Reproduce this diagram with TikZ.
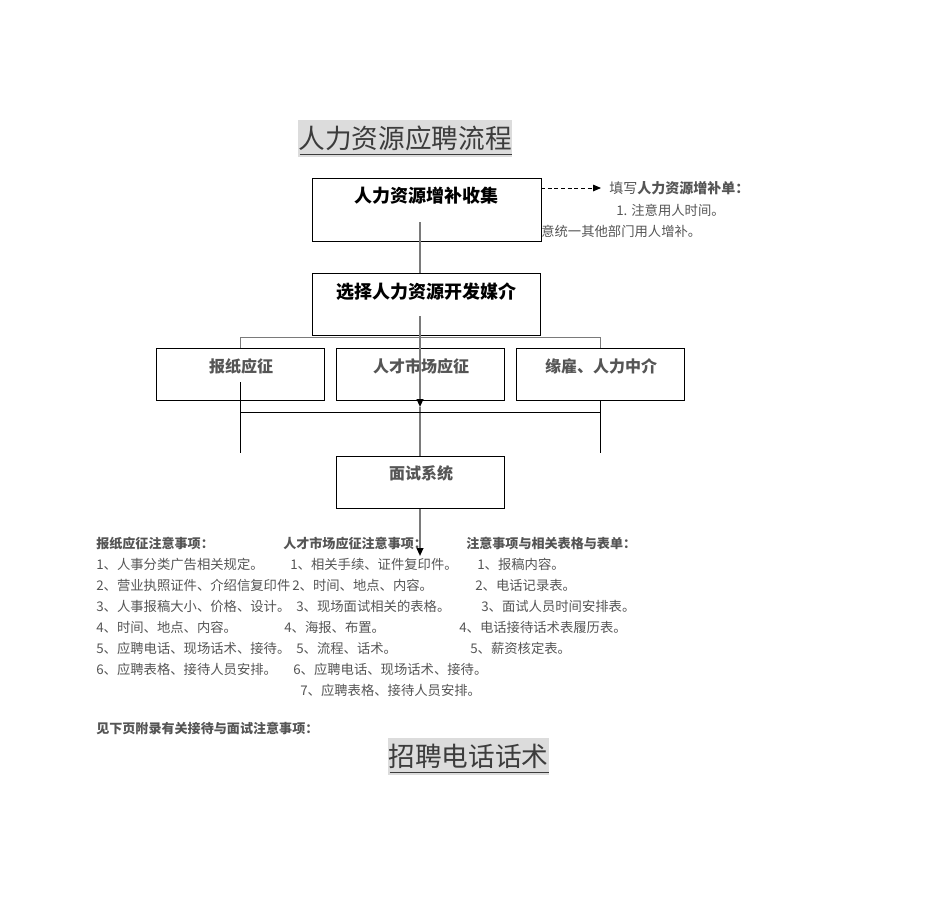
\documentclass[tikz,border=0pt]{standalone}
\usepackage{fontspec}
\setmainfont{Noto Sans CJK SC}
\usetikzlibrary{arrows.meta}
\definecolor{txtgray}{HTML}{555555}
\definecolor{titlegray}{HTML}{3C3C3C}
\definecolor{titlebg}{HTML}{DCDCDC}
\definecolor{linegray}{HTML}{7A7A7A}
\tikzset{
  box/.style={draw=black, line width=0.75pt, fill=none, inner sep=0pt},
  boxtitle/.style={font=\fontsize{13.5}{15}\selectfont\bfseries, text=black, inner sep=0pt},
  boxlabel/.style={font=\fontsize{12}{14}\selectfont\bfseries, text=txtgray, inner sep=0pt},
  bigtitle/.style={font=\fontsize{20}{22}\selectfont, text=titlegray, fill=titlebg, inner sep=0pt},
  body/.style={font=\fontsize{10}{12}\selectfont, text=txtgray, anchor=west, inner sep=0pt},
  head/.style={font=\fontsize{9.8}{12}\selectfont\bfseries, text=txtgray, anchor=west, inner sep=0pt},
  trunk/.style={draw=linegray, line width=1.3pt},
  thin/.style={draw=black, line width=0.7pt},
  graythin/.style={draw=linegray, line width=0.7pt},
  tip/.style={-{Triangle[length=6pt,width=5pt,color=black]}}
}
\begin{document}
\begin{tikzpicture}[x=0.75pt,y=-0.75pt]
\useasboundingbox (0,0) rectangle (937,903);

% titles
\node[bigtitle, minimum width=160.5pt, minimum height=27.75pt] (title) at (405,138.5) {人力资源应聘流程};
\draw[titlegray, line width=1pt] ([xshift=1.5pt,yshift=2.2pt]title.south west) -- ([xshift=0pt,yshift=2.2pt]title.south east);

% boxes
\node[box, minimum width=171.75pt, minimum height=47.25pt] (b1) at (426.5,209.5) {};
\node[boxtitle] (b1t) at (426,196) {人力资源增补收集};
\node[box, minimum width=171pt, minimum height=46.5pt] (b2) at (426,304) {};
\node[boxtitle] (b2t) at (426,292) {选择人力资源开发媒介};
\node[box, minimum width=126pt, minimum height=39pt] (n1) at (240,374) {};
\node[boxlabel] (n1t) at (241,366) {报纸应征};
\node[box, minimum width=126pt, minimum height=39pt] (n2) at (420,374) {};
\node[boxlabel] (n2t) at (421,366) {人才市场应征};
\node[box, minimum width=126pt, minimum height=39pt] (n3) at (600,374) {};
\node[boxlabel] (n3t) at (601,366) {缘雇、人力中介};
\node[box, minimum width=126pt, minimum height=39pt] (b4) at (420,482) {};
\node[boxlabel] (b4t) at (421,473) {面试系统};

% trunk
\coordinate (t0) at (420,222);
\coordinate (t1) at (420,273);
\coordinate (t2) at (420,316);
\coordinate (t3) at (420,407);
\coordinate (t4) at (420,556);
\draw[trunk] (t0) -- (t1);
\draw[trunk,tip] (t2) -- (t3);
\draw[trunk] (t3) -- (b4.north);
\draw[trunk,tip] (b4.south) -- (t4);

% top bracket
\coordinate (k1) at (240,337);
\coordinate (k2) at (600,337);
\draw[graythin] (n1.north) -- (k1) -- (k2) -- (n3.north);

% bottom bracket
\coordinate (m0) at (240,382);
\coordinate (m1) at (240,453);
\coordinate (m2) at (600,453);
\coordinate (h1) at (240,412);
\coordinate (h2) at (600,412);
\draw[thin] (m0) -- (m1);
\draw[thin] (n3.south) -- (m2);
\draw[thin] (h1) -- (h2);

% dashed arrow and note
\coordinate (d0) at (541,188);
\coordinate (d1) at (601,188);
\draw[thin, dashed, dash pattern=on 3pt off 2pt, tip] (d0) -- (d1);
\node[body, font=\fontsize{10.5}{12}\selectfont] (r1) at (609,188) {填写\textbf{人力资源增补单：}};
\node[body, font=\fontsize{10}{12}\selectfont] (r2) at (616,210) {1. 注意用人时间。};
\node[body, font=\fontsize{10}{12}\selectfont] (r3) at (541,231) {意统一其他部门用人增补。};

% column 1
\node[head] (c1h) at (96,543) {报纸应征注意事项：};
\node[body] (c11) at (96,564) {1、人事分类广告相关规定。};
\node[body] (c12) at (96,585) {2、营业执照证件、介绍信复印件};
\node[body] (c13) at (96,606) {3、人事报稿大小、价格、设计。};
\node[body] (c14) at (96,627) {4、时间、地点、内容。};
\node[body] (c15) at (96,648) {5、应聘电话、现场话术、接待。};
\node[body] (c16) at (96,669) {6、应聘表格、接待人员安排。};

% column 2
\node[head] (c2h) at (283,543) {人才市场应征注意事项：};
\node[body] (c21) at (290,564) {1、相关手续、证件复印件。};
\node[body] (c22) at (292,585) {2、时间、地点、内容。};
\node[body] (c23) at (296,606) {3、现场面试相关的表格。};
\node[body] (c24) at (284,627) {4、海报、布置。};
\node[body] (c25) at (296,648) {5、流程、话术。};
\node[body] (c26) at (293,669) {6、应聘电话、现场话术、接待。};
\node[body] (c27) at (300,690) {7、应聘表格、接待人员安排。};

% column 3
\node[head] (c3h) at (466,543) {注意事项与相关表格与表单：};
\node[body] (c31) at (477,564) {1、报稿内容。};
\node[body] (c32) at (475,585) {2、电话记录表。};
\node[body] (c33) at (481,606) {3、面试人员时间安排表。};
\node[body] (c34) at (459,627) {4、电话接待话术表履历表。};
\node[body] (c35) at (470,648) {5、薪资核定表。};

% footer
\node[head] (foot) at (96,728) {见下页附录有关接待与面试注意事项：};
\node[bigtitle, minimum width=120.75pt, minimum height=27.75pt] (title2) at (468.5,756.5) {招聘电话话术};
\draw[titlegray, line width=1pt] ([xshift=1.5pt,yshift=2.2pt]title2.south west) -- ([xshift=0pt,yshift=2.2pt]title2.south east);
\end{tikzpicture}
\end{document}
